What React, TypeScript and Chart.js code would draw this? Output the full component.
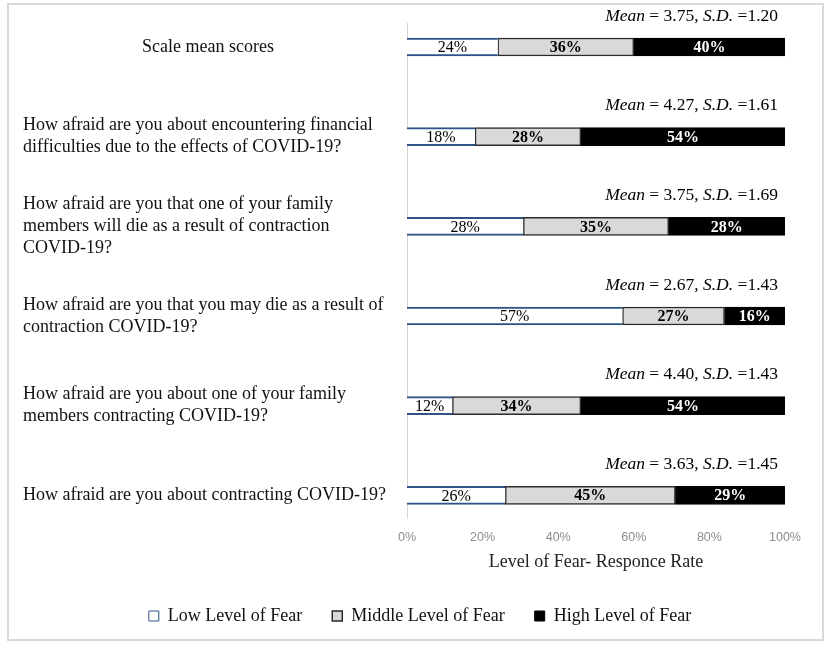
import React, { useEffect, useRef } from "react";
import { Chart, registerables } from "chart.js";

Chart.register(...registerables);

const categories: string[][] = [
  ["Scale mean scores"],
  ["How afraid are you about encountering financial", "difficulties due to the effects of COVID-19?"],
  ["How afraid are you that one of your family", "members will die as a result of contraction", "COVID-19?"],
  ["How afraid are you that you may die as a result of", "contraction COVID-19?"],
  ["How afraid are you about one of your family", "members contracting COVID-19?"],
  ["How afraid are you about contracting COVID-19?"],
];
const lowValues = [24, 18, 28, 57, 12, 26];
const middleValues = [36, 28, 35, 27, 34, 45];
const highValues = [40, 54, 28, 16, 54, 29];
const meanValues = ["3.75", "4.27", "3.75", "2.67", "4.40", "3.63"];
const sdValues = ["1.20", "1.61", "1.69", "1.43", "1.43", "1.45"];
const seriesNames = ["Low Level of Fear", "Middle Level of Fear", "High Level of Fear"];
const xTicks = [0, 20, 40, 60, 80, 100];
const axisTitle = "Level of Fear- Responce Rate";

const SERIF = "'Liberation Serif', 'Times New Roman', serif";
const rawSeries = [lowValues, middleValues, highValues];
const totals = lowValues.map((v, i) => v + middleValues[i] + highValues[i]);

const annotate = {
  id: "annotate",
  afterDatasetsDraw(chart: any) {
    const ctx = chart.ctx;
    const area = chart.chartArea;
    ctx.save();
    // value labels inside bars
    chart.data.datasets.forEach((ds: any, di: number) => {
      const meta = chart.getDatasetMeta(di);
      meta.data.forEach((el: any, i: number) => {
        const cx = (el.x + el.base) / 2;
        ctx.font = (di === 0 ? "" : "bold ") + "16px " + SERIF;
        ctx.fillStyle = di === 2 ? "#ffffff" : "#000000";
        ctx.textAlign = "center";
        ctx.textBaseline = "middle";
        ctx.fillText(rawSeries[di][i] + "%", cx, el.y + 1);
      });
    });
    // mean / sd annotations
    const meta0 = chart.getDatasetMeta(0);
    meta0.data.forEach((el: any, i: number) => {
      const parts = [
        { t: "Mean", it: true },
        { t: " = " + meanValues[i] + ", ", it: false },
        { t: "S.D.", it: true },
        { t: " =" + sdValues[i], it: false },
      ];
      const fontFor = (it: boolean) => (it ? "italic " : "") + "17.5px " + SERIF;
      let total = 0;
      parts.forEach((p) => {
        ctx.font = fontFor(p.it);
        total += ctx.measureText(p.t).width;
      });
      let x = area.right - 7 - total;
      const y = el.y - 31;
      ctx.textAlign = "left";
      ctx.textBaseline = "middle";
      ctx.fillStyle = "#000000";
      parts.forEach((p) => {
        ctx.font = fontFor(p.it);
        ctx.fillText(p.t, x, y);
        x += ctx.measureText(p.t).width;
      });
    });
    // category labels on the left
    ctx.font = "18px " + SERIF;
    ctx.fillStyle = "#111111";
    ctx.textBaseline = "middle";
    meta0.data.forEach((el: any, i: number) => {
      const lines = categories[i];
      const lh = 22;
      const startY = el.y - ((lines.length - 1) * lh) / 2;
      lines.forEach((ln, k) => {
        if (i === 0) {
          ctx.textAlign = "center";
          ctx.fillText(ln, area.left / 2, startY + k * lh);
        } else {
          ctx.textAlign = "left";
          ctx.fillText(ln, 14, startY + k * lh);
        }
      });
    });
    ctx.restore();
  },
};

export default function App() {
  const ref = useRef<HTMLCanvasElement>(null);
  useEffect(() => {
    if (!ref.current) return;
    const rows = categories.map((_, i) => i);
    const share = (arr: number[]) => rows.map((i) => ({ x: (arr[i] / totals[i]) * 100, y: i }));
    const chart = new Chart(ref.current, {
      type: "bar",
      data: {
        datasets: [
          {
            label: seriesNames[0],
            data: share(lowValues),
            backgroundColor: "#ffffff",
            borderColor: "#2e5387",
            borderWidth: { top: 2, bottom: 2, left: 0, right: 0 },
            borderSkipped: false,
            barThickness: 18,
          },
          {
            label: seriesNames[1],
            data: share(middleValues),
            backgroundColor: "#d9d9d9",
            borderColor: "#2a2a2a",
            borderWidth: 1.5,
            borderSkipped: false,
            barThickness: 18,
          },
          {
            label: seriesNames[2],
            data: share(highValues),
            backgroundColor: "#000000",
            borderColor: "#000000",
            borderWidth: 1,
            borderSkipped: false,
            barThickness: 18,
          },
        ],
      } as any,
      options: {
        indexAxis: "y",
        animation: false,
        responsive: true,
        maintainAspectRatio: false,
        layout: { padding: { top: 18, right: 37, bottom: 4, left: 46 } },
        scales: {
          x: {
            type: "linear",
            stacked: true,
            min: 0,
            max: 100,
            afterBuildTicks: (s: any) => {
              s.ticks = xTicks.map((v) => ({ value: v }));
            },
            grid: { display: false, drawTicks: false },
            border: { display: false },
            ticks: {
              padding: 12,
              color: "#8c8c8c",
              font: { family: "'Liberation Sans', Arial, sans-serif", size: 12.5 },
              callback: (v: any) => v + "%",
            },
            title: {
              display: true,
              text: axisTitle,
              color: "#222222",
              font: { family: SERIF, size: 18 },
              padding: { top: -6, bottom: 4 },
            },
          },
          y: {
            type: "linear",
            stacked: true,
            reverse: true,
            offset: false,
            min: -0.268,
            max: 5.257,
            grid: { display: false, drawTicks: false },
            border: { display: true, color: "#d4d4d4", width: 1 },
            ticks: { display: false },
            afterFit: (s: any) => {
              s.width = 352;
            },
          },
        },
        plugins: {
          legend: {
            position: "bottom",
            labels: {
              boxWidth: 10,
              boxHeight: 10,
              padding: 30,
              color: "#111111",
              font: { family: SERIF, size: 18 },
            },
          },
          tooltip: { enabled: false },
        },
      } as any,
      plugins: [annotate],
    });
    return () => chart.destroy();
  }, []);
  return (
    <div
      style={{
        position: "absolute",
        left: 7,
        top: 3,
        width: 817,
        height: 638,
        border: "2px solid #d9d9d9",
        boxSizing: "border-box",
        background: "#ffffff",
      }}
    >
      <div style={{ position: "relative", width: 813, height: 634 }}>
        <canvas ref={ref} />
      </div>
    </div>
  );
}
